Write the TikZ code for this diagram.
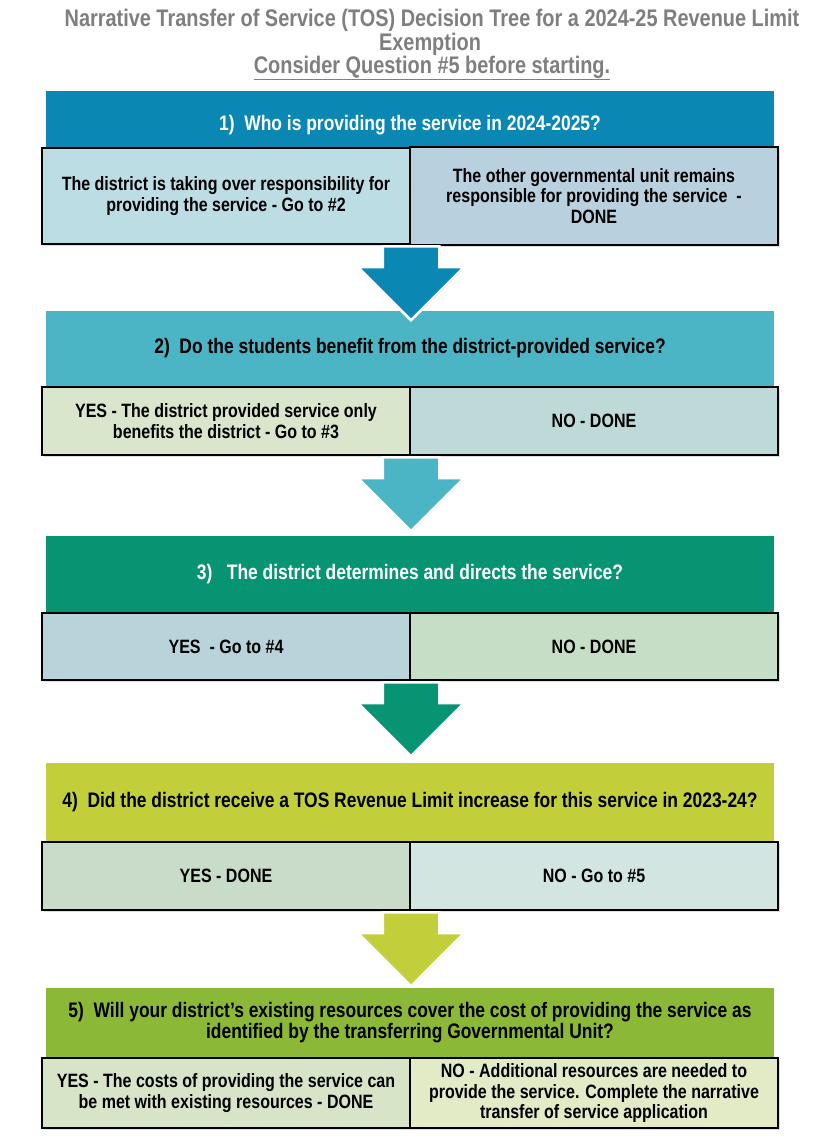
\documentclass[tikz,border=0pt]{standalone}
\usepackage{fontspec}
\setmainfont{Liberation Sans}[FakeStretch=0.83]
\usetikzlibrary{shapes.arrows,shadows}

\definecolor{hdA}{HTML}{0B87B3}
\definecolor{hdB}{HTML}{4BB5C5}
\definecolor{hdC}{HTML}{069473}
\definecolor{hdD}{HTML}{C3CF3A}
\definecolor{hdE}{HTML}{8CB838}
\definecolor{titlegray}{HTML}{7F7F7F}

\tikzset{
  header/.style={rectangle, minimum width=730, inner sep=0pt, align=center,
    draw=white, line width=1.5pt,
    drop shadow={opacity=0.18, shadow xshift=1pt, shadow yshift=-1pt},
    font=\fontsize{21}{20.5}\selectfont\bfseries},
  answer/.style={rectangle, minimum width=368, inner sep=0pt, align=center,
    draw=black, line width=2pt,
    drop shadow={opacity=0.25, shadow xshift=1.5pt, shadow yshift=-1.5pt},
    font=\fontsize{19.3}{20.5}\selectfont\bfseries},
  flowarrow/.style={single arrow, rotate=-90, anchor=tail, inner sep=0pt,
    text height=27pt, text depth=27pt, minimum height=74pt,
    single arrow head extend=25pt, draw=white, line width=2.5pt,
    drop shadow={opacity=0.2, shadow xshift=1pt, shadow yshift=-1pt}},
  titletext/.style={text=titlegray, font=\fontsize{24}{24}\selectfont\bfseries}
}

\begin{document}
\begin{tikzpicture}[x=1pt,y=-1pt]
\useasboundingbox[fill=white] (0,0) rectangle (821,1138);

\node[titletext] (t1) at (432,20) {Narrative Transfer of Service (TOS) Decision Tree for a 2024-25 Revenue Limit};
\node[titletext] (t2) at (430,44) {Exemption};
\node[titletext] (t3) at (432,68) {\underline{Consider Question \#5 before starting.}};

\node[header, fill=hdA, text=white, minimum height=70] (q1) at (410,125) {1)\ \ Who is providing the service in 2024-2025?};
\node[answer, fill={rgb,255:red,189;green,221;blue,228}, minimum height=96] (a1l) at (226,196) {The district is taking over responsibility for\\providing the service - Go to \#2};
\node[answer, fill={rgb,255:red,185;green,209;blue,222}, minimum height=98] (a1r) at (594,196) {The other governmental unit remains\\responsible for providing the service\ \ -\\DONE};

\node[header, fill=hdB, text=black, minimum height=77] (q2) at (410,348.5) {2)\ \ Do the students benefit from the district-provided service?};
\node[answer, fill={rgb,255:red,217;green,230;blue,204}, minimum height=68] (a2l) at (226,421) {YES - The district provided service only\\benefits the district - Go to \#3};
\node[answer, fill={rgb,255:red,190;green,218;blue,216}, minimum height=68] (a2r) at (594,421) {NO - DONE};

\node[header, fill=hdC, text=white, minimum height=78] (q3) at (410,574) {3)\ \ \ The district determines and directs the service?};
\node[answer, fill={rgb,255:red,185;green,211;blue,219}, minimum height=67] (a3l) at (226,646.5) {YES\ \ - Go to \#4};
\node[answer, fill={rgb,255:red,198;green,222;blue,198}, minimum height=67] (a3r) at (594,646.5) {NO - DONE};

\node[header, fill=hdD, text=black, minimum height=80] (q4) at (410,802) {4)\ \ Did the district receive a TOS Revenue Limit increase for this service in 2023-24?};
\node[answer, fill={rgb,255:red,201;green,220;blue,201}, minimum height=68] (a4l) at (226,876) {YES - DONE};
\node[answer, fill={rgb,255:red,210;green,229;blue,224}, minimum height=68] (a4r) at (594,876) {NO - Go to \#5};

\node[header, fill=hdE, text=black, minimum height=71] (q5) at (410,1022.5) {5)\ \ Will your district's existing resources cover the cost of providing the service as\\identified by the transferring Governmental Unit?};
\node[answer, fill={rgb,255:red,215;green,228;blue,200}, minimum height=70] (a5l) at (226,1093) {YES - The costs of providing the service can\\be met with existing resources - DONE};
\node[answer, fill={rgb,255:red,227;green,234;blue,198}, minimum height=70] (a5r) at (594,1093) {NO - Additional resources are needed to\\provide the service. Complete the narrative\\transfer of service application};

\node[flowarrow, fill=hdA] (ar1) at (a1l.south east) {};
\node[flowarrow, fill=hdB] (ar2) at (a2l.south east) {};
\node[flowarrow, fill=hdC] (ar3) at (a3l.south east) {};
\node[flowarrow, fill=hdD] (ar4) at (a4l.south east) {};
\end{tikzpicture}
\end{document}
